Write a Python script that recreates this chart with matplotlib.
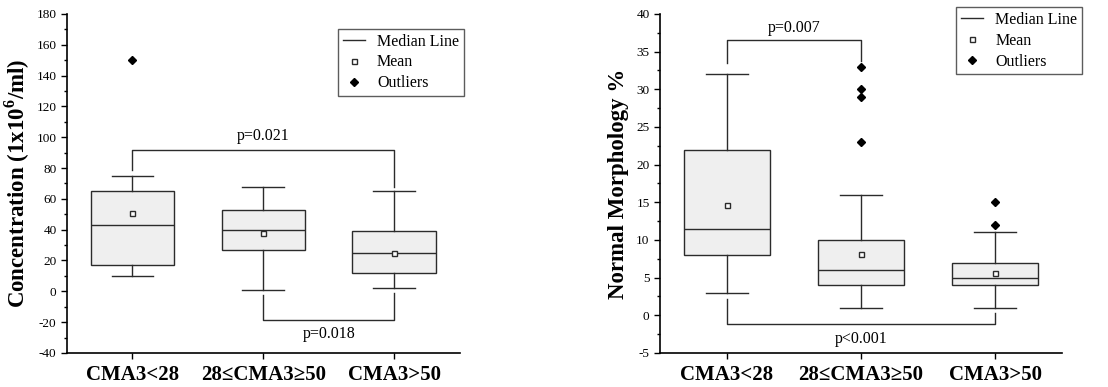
import matplotlib
matplotlib.use("Agg")
import matplotlib.pyplot as plt
from matplotlib.lines import Line2D
from matplotlib.ticker import MultipleLocator

plt.rcParams['font.family'] = ['Liberation Serif', 'DejaVu Serif']
plt.rcParams['mathtext.fontset'] = 'custom'
plt.rcParams['mathtext.rm'] = 'Liberation Serif'
plt.rcParams['mathtext.bf'] = 'Liberation Serif:bold'
plt.rcParams['axes.unicode_minus'] = False

categories = ["CMA3<28", "28\u2264CMA3\u226550", "CMA3>50"]

# Sperm concentration (1x10^6/ml)
conc_q1 = [17, 27, 12]
conc_med = [43, 40, 25]
conc_q3 = [65, 52.5, 39]
conc_lo = [10, 1, 2]
conc_hi = [75, 68, 65]
conc_mean = [51, 38, 25]
conc_out = [[150], [], []]

# Normal morphology (%)
morph_q1 = [8, 4, 4]
morph_med = [11.5, 6, 5]
morph_q3 = [22, 10, 7]
morph_lo = [3, 1, 1]
morph_hi = [32, 16, 11]
morph_mean = [14.6, 8.2, 5.55]
morph_out = [[], [33, 30, 29, 23], [15, 12]]

# Significance brackets: (group a, group b, bracket level, leg end a, leg end b, label, label y)
conc_brackets = [(1, 3, 92, 79, 68, "p=0.021", 101),
                 (2, 3, -18.4, -2.5, -1, "p=0.018", -28)]
morph_brackets = [(1, 2, 36.5, 33.5, 33.7, "p=0.007", 38.1),
                  (1, 3, -1.1, 2.2, 0.3, "p<0.001", -3.1)]

fig = plt.figure(figsize=(11.08, 3.87), dpi=100)
ax1 = fig.add_axes([0.0605, 0.088, 0.3545, 0.876])
ax2 = fig.add_axes([0.5957, 0.088, 0.3628, 0.876])

EDGE = '#2b2b2b'


def make_stats(q1, med, q3, lo, hi, mean, out):
    return [dict(q1=a, med=b, q3=c, whislo=d, whishi=e, mean=f, fliers=g)
            for a, b, c, d, e, f, g in zip(q1, med, q3, lo, hi, mean, out)]


def draw(ax, stats, brackets, ylim, major, minor, ylabel, label_x):
    ax.bxp(stats, positions=[1, 2, 3], widths=0.64, showmeans=True,
           patch_artist=True, showfliers=True,
           boxprops=dict(facecolor='#efefef', edgecolor=EDGE, linewidth=1.0),
           medianprops=dict(color=EDGE, linewidth=1.0),
           whiskerprops=dict(color=EDGE, linewidth=1.0),
           capprops=dict(color=EDGE, linewidth=1.0),
           capwidths=0.32,
           meanprops=dict(marker='s', markersize=3.6, markerfacecolor='white',
                          markeredgecolor=EDGE, markeredgewidth=1.0),
           flierprops=dict(marker='D', markersize=3.8, markerfacecolor='black',
                           markeredgecolor='black'))
    for a, b, level, ea, eb, txt, ty in brackets:
        ax.plot([a, a, b, b], [ea, level, level, eb], color=EDGE, lw=1.0)
        ax.text((a + b) / 2, ty, txt, ha='center', va='center', fontsize=11.5)
    ax.set_xlim(0.5, 3.5)
    ax.set_ylim(*ylim)
    ax.yaxis.set_major_locator(MultipleLocator(major))
    ax.yaxis.set_minor_locator(MultipleLocator(minor))
    ax.set_xticks([1, 2, 3])
    ax.set_xticklabels(categories, fontsize=15, fontweight='bold')
    ax.tick_params(axis='y', which='major', labelsize=9.5, length=4, width=1)
    ax.tick_params(axis='y', which='minor', length=2.5, width=1)
    ax.tick_params(axis='x', which='major', length=4, width=1, pad=5)
    for s in ('top', 'right'):
        ax.spines[s].set_visible(False)
    for s in ('left', 'bottom'):
        ax.spines[s].set_linewidth(1.2)
    ax.set_ylabel(ylabel, fontsize=16.5, fontweight='bold')
    ax.yaxis.set_label_coords(label_x, 0.5)
    handles = [Line2D([], [], color=EDGE, lw=1.0),
               Line2D([], [], ls='none', marker='s', markersize=3.6,
                      markerfacecolor='white', markeredgecolor=EDGE),
               Line2D([], [], ls='none', marker='D', markersize=3.8,
                      markerfacecolor='black', markeredgecolor='black')]
    return handles


h1 = draw(ax1, make_stats(conc_q1, conc_med, conc_q3, conc_lo, conc_hi,
                          conc_mean, conc_out),
          conc_brackets, (-40, 180), 20, 10,
          r"Concentration (1x10$^{\mathbf{6}}$/ml)", -0.089)
h2 = draw(ax2, make_stats(morph_q1, morph_med, morph_q3, morph_lo, morph_hi,
                          morph_mean, morph_out),
          morph_brackets, (-5, 40), 5, 2.5,
          "Normal Morphology %", -0.077)

leg_labels = ["Median Line", "Mean", "Outliers"]
for ax, h, anchor in ((ax1, h1, (1.01, 0.956)), (ax2, h2, (1.05, 1.02))):
    leg = ax.legend(h, leg_labels, loc='upper right', bbox_to_anchor=anchor,
                    borderaxespad=0, fontsize=11.5, frameon=True,
                    fancybox=False, edgecolor='#333333', handlelength=1.4,
                    handletextpad=0.75, borderpad=0.3, labelspacing=0.3)
    leg.get_frame().set_linewidth(1.0)

fig.savefig("out.png", dpi=100)
